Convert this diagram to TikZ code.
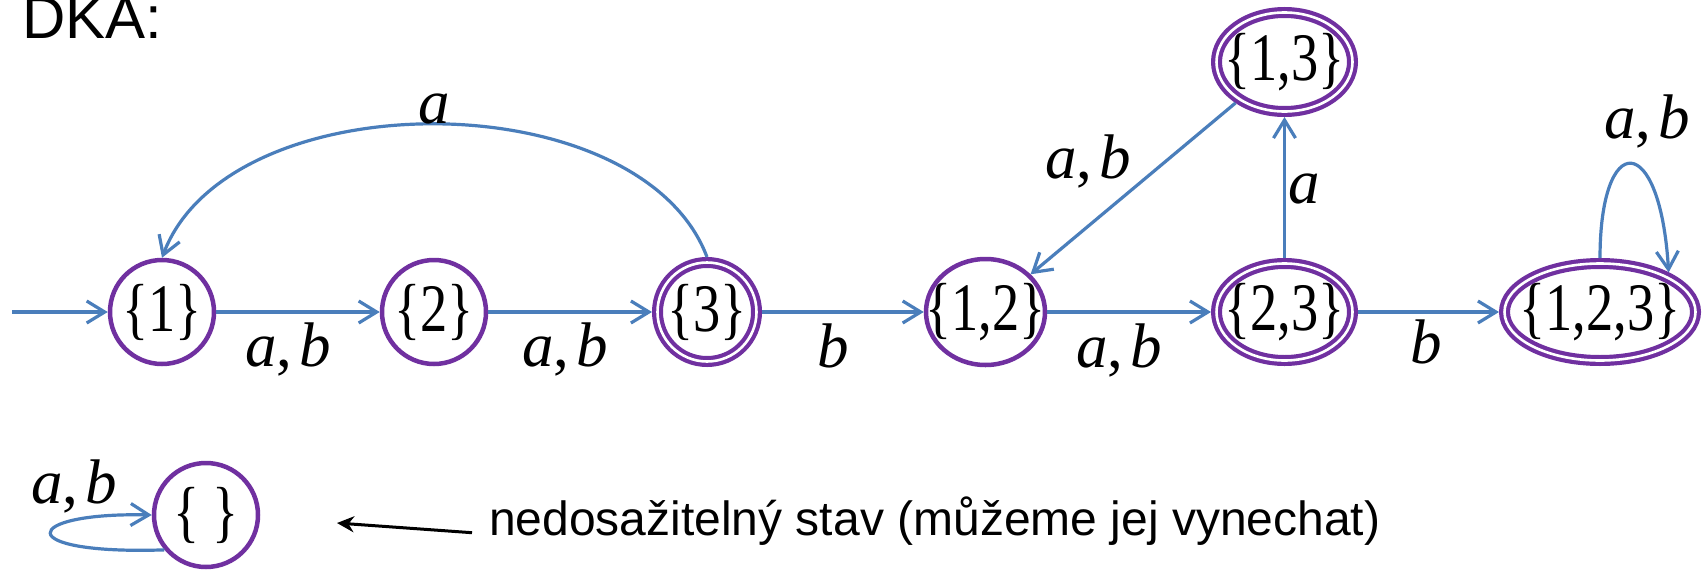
\documentclass[tikz,border=0pt]{standalone}
\usepackage{fontspec}
\usepackage{graphicx}
\setmainfont{Liberation Serif}
\newfontfamily\arialf{Liberation Sans}
\usetikzlibrary{arrows.meta,shapes.geometric}
\definecolor{stpurple}{HTML}{7030A0}
\definecolor{edgeblue}{HTML}{4A7EBB}
\newcommand\stxt[1]{\makebox[0pt]{\scalebox{0.8}[1]{#1}}}
\newcommand\labab{\textit{a},\hspace{0.1em}\textit{b}}
\begin{document}
\begin{tikzpicture}[x=1pt,y=-1pt,
  state/.style={ellipse,draw=stpurple,line width=4.5pt,fill=white,inner sep=0pt,
    font=\fontsize{68}{72}\selectfont},
  accept/.style={state,line width=4.2pt,double=white,double distance=2.6pt,outer sep=5.5pt},
  edge/.style={draw=edgeblue,line width=3.2pt,-{Straight Barb[length=18pt,width=22pt]}},
  lab/.style={anchor=base,inner sep=0pt,font=\fontsize{63}{70}\selectfont},
  sans/.style={anchor=base west,inner sep=0pt}
]
\fill[white] (0,0) rectangle (1704,570);
\useasboundingbox (0,0) rectangle (1704,570);

\node[sans,font=\arialf\fontsize{60}{66}\selectfont] (title) at (22,38) {DKA:};

% states
\node[state,minimum width=104pt,minimum height=104pt] (q1) at (162,312) {\stxt{\{1\}}};
\node[state,minimum width=104pt,minimum height=104pt] (q2) at (434,312) {\stxt{\{2\}}};
\node[accept,minimum width=99pt,minimum height=99pt] (q3) at (707,312) {\stxt{\{3\}}};
\node[state,minimum width=119pt,minimum height=106pt] (q12) at (985.5,312) {\stxt{\{1,2\}}};
\node[accept,minimum width=136pt,minimum height=97pt] (q23) at (1284.5,312) {\stxt{\{2,3\}}};
\node[accept,minimum width=136pt,minimum height=99pt] (q13) at (1284.5,62) {\stxt{\{1,3\}}};
\node[accept,minimum width=191pt,minimum height=97pt] (q123) at (1600,312) {\stxt{\{1,2,3\}}};
\node[state,minimum width=104pt,minimum height=104pt] (qe) at (206,515) {\stxt{\{ \}}};

% edges
\coordinate (init) at (12,312);
\draw[edge] (init) -- (q1);
\draw[edge] (q1) -- (q2);
\draw[edge] (q2) -- (q3);
\draw[edge] (q3) -- (q12);
\draw[edge] (q12) -- (q23);
\draw[edge] (q23) -- (q123);
\draw[edge] (q23) -- (q13);
\draw[edge] (q13) -- (q12);
\draw[edge] (q3.north) .. controls (640,80) and (229,80) .. (q1.north);
\draw[edge] (q123.north) .. controls (1600,130) and (1660,130) .. (q123.30);
\draw[edge] (qe.220) .. controls (10,555) and (20,512) .. (qe.west);

% labels
\node[lab] (l1) at (288,366) {\labab};
\node[lab] (l2) at (565,366) {\labab};
\node[lab] (l3) at (833,367) {\textit{b}};
\node[lab] (l4) at (1119,367) {\labab};
\node[lab] (l5) at (1426,363) {\textit{b}};
\node[lab] (l6) at (1304,203) {\textit{a}};
\node[lab] (l7) at (1088,178) {\labab};
\node[lab] (l8) at (1647,138) {\labab};
\node[lab] (l9) at (434,123) {\textit{a}};
\node[lab] (l10) at (74,503) {\labab};

% note
\node[sans,font=\arialf\fontsize{48}{56}\selectfont] (note) at (489,535) {nedosažitelný stav (můžeme jej vynechat)};
\coordinate (ntip) at (337,523);
\draw[line width=3pt,-{Stealth[length=17pt,width=16pt]}] ([xshift=-17pt]note.mid west) -- (ntip);
\end{tikzpicture}
\end{document}
